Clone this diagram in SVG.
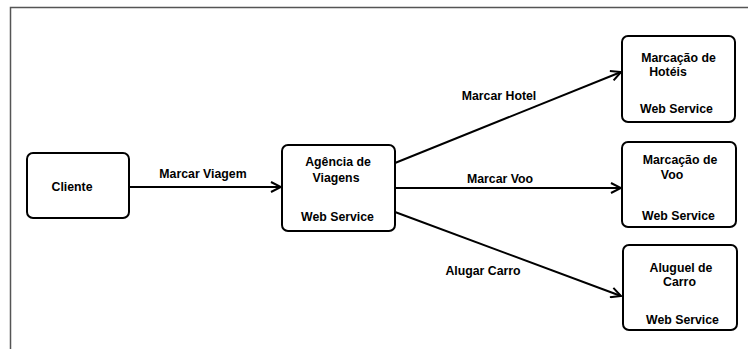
<svg xmlns="http://www.w3.org/2000/svg" width="748" height="349" viewBox="0 0 748 349">
<defs>
<marker id="arr" viewBox="0 0 12 12" refX="11" refY="6" markerWidth="12" markerHeight="12" markerUnits="userSpaceOnUse" orient="auto">
<path d="M1,1 L11,6 L1,11" fill="none" stroke="#000" stroke-width="2"/>
</marker>
<style>
.box{fill:#fff;stroke:#000;stroke-width:2}
.t{font-family:"Liberation Sans",Arial,sans-serif;font-size:12.3px;font-weight:bold;fill:#000;text-anchor:middle}
.c{stroke:#000;stroke-width:2;fill:none;marker-end:url(#arr)}
</style>
</defs>
<rect width="748" height="349" fill="#fff"/>
<path d="M10.5,349 V7.5 H748" fill="none" stroke="#555" stroke-width="1.5"/>
<g id="connectors">
<line class="c" x1="129" y1="187" x2="281" y2="187"/>
<line class="c" x1="395" y1="163" x2="621" y2="72"/>
<line class="c" x1="395" y1="188" x2="621" y2="188"/>
<line class="c" x1="395" y1="212" x2="621" y2="296"/>
<text class="t" x="203" y="178">Marcar Viagem</text>
<text class="t" x="499" y="100">Marcar Hotel</text>
<text class="t" x="500" y="183">Marcar Voo</text>
<text class="t" x="483" y="275">Alugar Carro</text>
</g>
<g id="cliente">
<rect class="box" x="27" y="153" width="102" height="65" rx="6"/>
<text class="t" x="72" y="191">Cliente</text>
</g>
<g id="agencia">
<rect class="box" x="282" y="145" width="113" height="86" rx="6"/>
<text class="t" x="338" y="166">Agência de</text>
<text class="t" x="336" y="182">Viagens</text>
<text class="t" x="337.5" y="221">Web Service</text>
</g>
<g id="hoteis">
<rect class="box" x="622" y="36" width="113" height="86" rx="6"/>
<text class="t" x="678.5" y="62">Marcação de</text>
<text class="t" x="668" y="76">Hotéis</text>
<text class="t" x="676.5" y="113">Web Service</text>
</g>
<g id="voo">
<rect class="box" x="622" y="142" width="114" height="85" rx="6"/>
<text class="t" x="680" y="164">Marcação de</text>
<text class="t" x="672" y="179">Voo</text>
<text class="t" x="678.5" y="220">Web Service</text>
</g>
<g id="aluguel">
<rect class="box" x="623" y="245" width="114" height="85" rx="6"/>
<text class="t" x="681" y="272">Aluguel de</text>
<text class="t" x="679.5" y="286">Carro</text>
<text class="t" x="682.5" y="324">Web Service</text>
</g>
</svg>
